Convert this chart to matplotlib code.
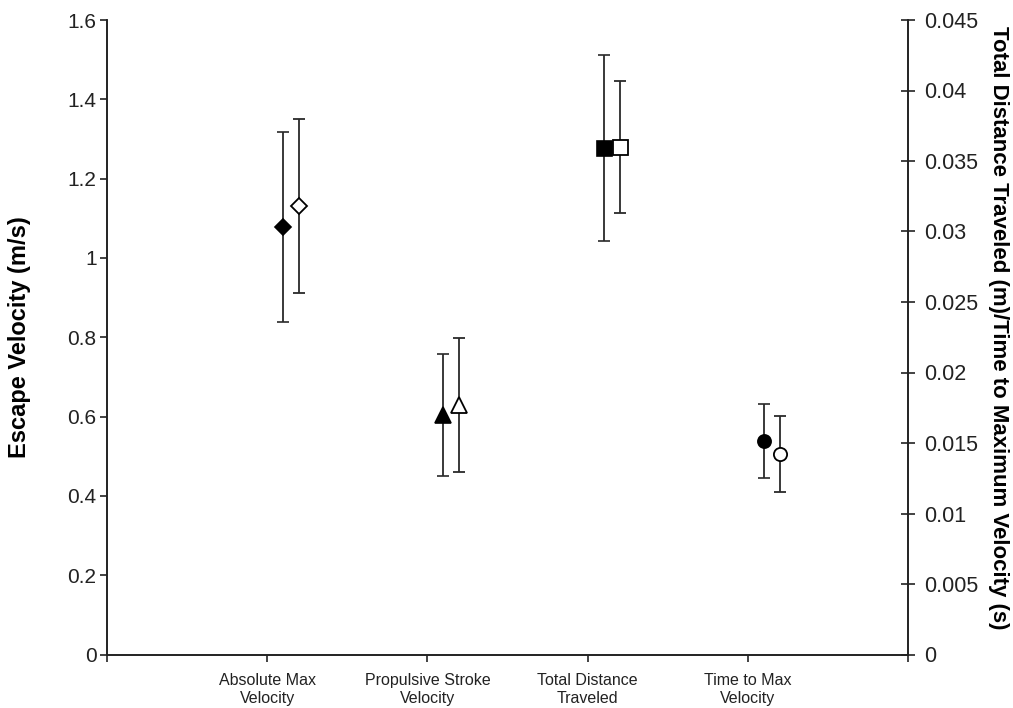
import matplotlib
matplotlib.use('Agg')
from matplotlib import pyplot as plt
from matplotlib.ticker import FuncFormatter, MultipleLocator

plt.rcParams['font.family'] = ['Liberation Sans', 'DejaVu Sans']

categories = ['Absolute Max\nVelocity', 'Propulsive Stroke\nVelocity',
              'Total Distance\nTraveled', 'Time to Max\nVelocity']

# escape velocity (m/s), left axis
vel_filled = [1.078, 0.604]
vel_filled_sd = [0.240, 0.155]
vel_open = [1.131, 0.629]
vel_open_sd = [0.219, 0.168]

# distance (m) / time to max velocity (s), right axis
dt_filled = [0.0359, 0.01516]
dt_filled_sd = [0.0066, 0.00262]
dt_open = [0.0360, 0.01422]
dt_open_sd = [0.0047, 0.00267]

markers_vel = ['D', '^']
markers_dt = ['s', 'o']
msize = {'D': 8.3, '^': 11, 's': 10.8, 'o': 9.5}

ink = '#222222'
bar_kw = dict(ecolor='#2a2a2a', elinewidth=1.3, capsize=4.2, capthick=1.3,
              linestyle='none')

fig = plt.figure(figsize=(10.13, 7.08), dpi=100)
ax = fig.add_axes([107 / 1013, 53.5 / 708, 801 / 1013, 634.5 / 708])
ax2 = ax.twinx()

for i in range(2):
    x = i + 1
    m = markers_vel[i]
    ax.errorbar(x + 0.1, vel_filled[i], yerr=vel_filled_sd[i], marker=m,
                ms=msize[m], mfc='black', mec='black', mew=1.2, zorder=3,
                **bar_kw)
    ax.errorbar(x + 0.2, vel_open[i], yerr=vel_open_sd[i], marker=m,
                ms=msize[m], mfc='white', mec='black', mew=1.3, zorder=3,
                **bar_kw)

for i in range(2):
    x = i + 3
    m = markers_dt[i]
    ax2.errorbar(x + 0.1, dt_filled[i], yerr=dt_filled_sd[i], marker=m,
                 ms=msize[m], mfc='black', mec='black', mew=1.2, zorder=3,
                 **bar_kw)
    ax2.errorbar(x + 0.2, dt_open[i], yerr=dt_open_sd[i], marker=m,
                 ms=msize[m], mfc='white', mec='black', mew=1.3, zorder=3,
                 **bar_kw)

fmt = FuncFormatter(lambda v, pos: '%g' % round(v, 4))

ax.set_xlim(0, 5)
ax.set_ylim(0, 1.6)
ax.yaxis.set_major_locator(MultipleLocator(0.2))
ax.yaxis.set_major_formatter(fmt)
ax2.set_ylim(0, 0.045)
ax2.yaxis.set_major_locator(MultipleLocator(0.005))
ax2.yaxis.set_major_formatter(fmt)

ax.set_xticks([0, 1, 2, 3, 4, 5])
ax.set_xticklabels([''] + categories + [''], fontsize=11.5, color=ink,
                   linespacing=1.3)

ax.tick_params(axis='x', direction='out', length=5, width=1.2, color=ink,
               pad=8)
ax.tick_params(axis='y', direction='out', length=5, width=1.2, color=ink,
               labelsize=15, pad=2.5, labelcolor=ink)
ax2.tick_params(axis='y', direction='inout', length=9.5, width=1.2,
                color=ink, labelsize=15.5, pad=7, labelcolor=ink)

for a in (ax, ax2):
    a.spines['top'].set_visible(False)
    for s in ('left', 'right', 'bottom'):
        a.spines[s].set_linewidth(1.2)
        a.spines[s].set_color(ink)

ax.set_ylabel('Escape Velocity (m/s)', fontsize=17, fontweight='bold',
              color='black')
ax.yaxis.set_label_coords(-0.0949, 0.5)
ax2.set_ylabel('Total Distance Traveled (m)/Time to Maximum Velocity (s)',
               fontsize=16, fontweight='bold', rotation=-90, va='center',
               color='black')
ax2.yaxis.set_label_coords(1.1136, 0.515)

fig.savefig('out.png', dpi=100)
